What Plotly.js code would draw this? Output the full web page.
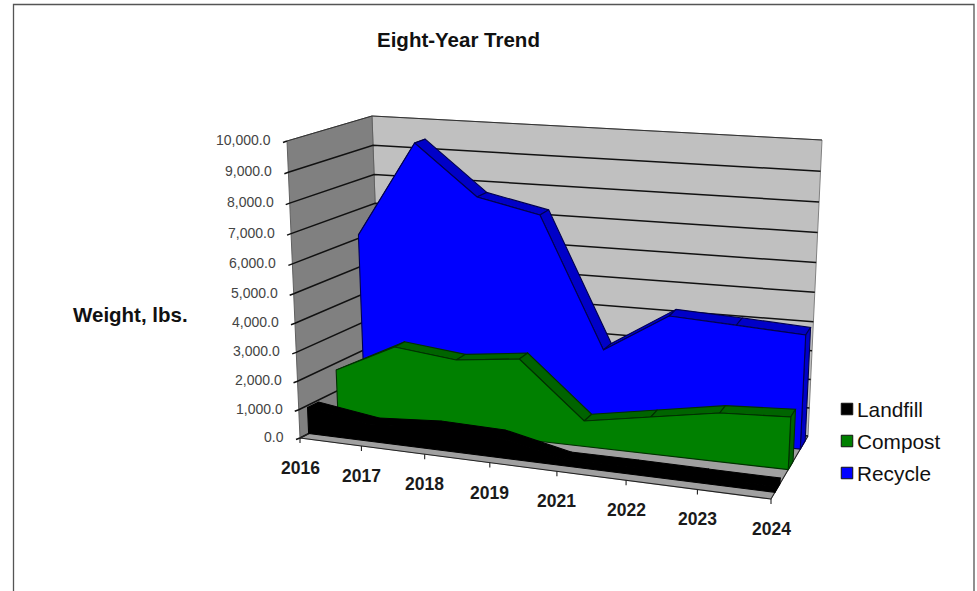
<!DOCTYPE html><html><body style="margin:0;background:#fff"><div id="g" style="width:977px;height:591px"></div>
<script src="https://cdn.plot.ly/plotly-3.0.0.min.js"></script>
<script>
const years=['2016','2017','2018','2019','2021','2022','2023','2024'];
const landfill=[930,615,770,720,224,230,209,198];
const compost=[1755,2795,2561,2824,899,1294,1688,1811];
const recycle=[6117,9399,7726,7273,2818,4196,4086,3951];
const valueTicks=[0,1000,2000,3000,4000,5000,6000,7000,8000,9000,10000];
const seriesNames=['Landfill','Compost','Recycle'];
const seriesColors=['#000000','#008000','#0000ff'];
const maxValue=10000;

// Chart box corners on the page: key = category, depth, height (0/1)
const C={'000':[300,438],'100':[771,499],'010':[382,396],'110':[808,436],'001':[287,141],'101':[786,185],'011':[372,116],'111':[822,140]};
const A=-0.10,B=0.06,Cc=-0.055;
function P(u,d,v){let X=0,Y=0,W=0;for(const k in C){const a=+k[0],b=+k[1],c=+k[2];const w=(1+A*a+B*b+Cc*c)*(a?u:1-u)*(b?d:1-d)*(c?v:1-v);X+=C[k][0]*w;Y+=C[k][1]*w;W+=w;}return[X/W,Y/W];}
const U=i=>i/(years.length-1), V=y=>y/maxValue;

const traces=[];
function xy(pts){const x=[],y=[];pts.forEach(p=>{if(p===null){x.push(null);y.push(null);}else{x.push(p[0]);y.push(p[1]);}});return{x,y};}
function poly(pts,fill,line,w){const q=xy(pts);
  traces.push({type:'scatter',mode:'lines',x:q.x,y:q.y,fill:'toself',fillcolor:fill,line:{color:line,width:w===undefined?1.1:w},hoverinfo:'skip',showlegend:false});}
function seg(pts,color,w){const q=xy(pts);
  traces.push({type:'scatter',mode:'lines',x:q.x,y:q.y,line:{color,width:w},hoverinfo:'skip',showlegend:false});}
// walls and floor
poly([P(0,1,0),P(1,1,0),P(1,1,1),P(0,1,1),P(0,1,0)],'#c0c0c0','#808080',1);
poly([P(0,0,0),P(0,1,0),P(0,1,1),P(0,0,1),P(0,0,0)],'#808080','#606060',1);
poly([P(0,0,0),P(1,0,0),P(1,1,0),P(0,1,0),P(0,0,0)],'#a0a0a0','#a0a0a0',1);
// gridlines + axis ticks
const gl=[];
valueTicks.forEach((t,i)=>{const v=V(t);const a=P(0,0,v);
  if(i===valueTicks.length-1)gl.push([a[0]-4,a[1]+1.5],a,null);
  else gl.push([a[0]-4,a[1]+1.5],a,P(0,1,v),P(1,1,v),null);});
seg(gl,'#111',1.5);
seg([P(0,0,1),P(0,1,1),P(1,1,1)],'#333',1);
// floor front and side edges, category ticks
const ft=[P(0,0,0),P(1,0,0),P(1,1,0),null];
years.forEach((_,i)=>{const a=P(U(i),0,0);ft.push(a,[a[0],a[1]+5],null);});
ft.push(P(0,0,0),P(0,1,0),null);
seg(ft,'#222',1.1);

function area(vals,d0,d1,face,top,edge){
  const n=vals.length;
  for(let i=0;i<n-1;i++){poly([P(U(i),d0,V(vals[i])),P(U(i+1),d0,V(vals[i+1])),P(U(i+1),d1,V(vals[i+1])),P(U(i),d1,V(vals[i])),P(U(i),d0,V(vals[i]))],top,edge);}
  poly([P(1,d0,0),P(1,d1,0),P(1,d1,V(vals[n-1])),P(1,d0,V(vals[n-1])),P(1,d0,0)],top,edge);
  const f=[P(0,d0,0)];vals.forEach((y,i)=>f.push(P(U(i),d0,V(y))));f.push(P(1,d0,0),P(0,d0,0));
  poly(f,face,edge);
}
area(recycle,.78,.92,seriesColors[2],'#0000c8','#000050');
area(compost,.45,.58,seriesColors[1],'#006400','#003000');
area(landfill,.10,.23,seriesColors[0],'#000000','#000000');

const font='Liberation Sans, Arial, sans-serif';
// legend swatches
seriesNames.forEach((s,i)=>{
  traces.push({type:'scatter',mode:'markers',x:[847],y:[409+32*i],name:s,
    marker:{symbol:'square',size:11.5,color:seriesColors[i],line:{color:'#111',width:1}},hoverinfo:'skip',showlegend:false});
});
const ann=[];
seriesNames.forEach((s,i)=>ann.push({x:857,y:409+32*i,xref:'x',yref:'y',xanchor:'left',yanchor:'middle',showarrow:false,xshift:-2,
  text:s,font:{family:font,size:20.8,color:'#111'}}));
valueTicks.forEach(t=>{const p=P(0,0,V(t));
  ann.push({x:p[0]-14,y:p[1]-1,xref:'x',yref:'y',xanchor:'right',yanchor:'middle',showarrow:false,
    text:t.toLocaleString('en-US',{minimumFractionDigits:1,maximumFractionDigits:1}),font:{family:font,size:14,color:'#444'}});});
years.forEach((t,i)=>{const p=P(U(i),0,0);
  ann.push({x:p[0],y:p[1]+30,xref:'x',yref:'y',xanchor:'center',yanchor:'middle',showarrow:false,
    text:'<b>'+t+'</b>',font:{family:font,size:17.5,color:'#1a1a1a'}});});
ann.push({x:458,y:39,xref:'x',yref:'y',xanchor:'center',yanchor:'middle',showarrow:false,text:'<b>Eight-Year Trend</b>',font:{family:font,size:20.5,color:'#111'}});
ann.push({x:130,y:314,xref:'x',yref:'y',xanchor:'center',yanchor:'middle',showarrow:false,text:'<b>Weight, lbs.</b>',font:{family:font,size:20.5,color:'#111'}});

Plotly.newPlot('g',traces,{
  width:977,height:591,margin:{l:0,r:0,t:0,b:0},paper_bgcolor:'#fff',plot_bgcolor:'#fff',
  xaxis:{range:[0,977],visible:false,fixedrange:true},
  yaxis:{range:[591,0],visible:false,fixedrange:true},
  shapes:[{type:'path',xref:'x',yref:'y',path:'M13.5,591 L13.5,4.5 L974,4.5 L974,591',line:{color:'#555',width:1.3},layer:'below'}],
  annotations:ann,showlegend:false
},{displayModeBar:false,staticPlot:true});
</script></body></html>
